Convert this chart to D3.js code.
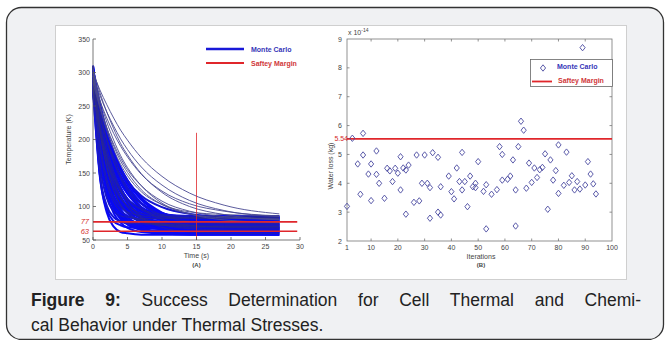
<!DOCTYPE html>
<html>
<head>
<meta charset="utf-8">
<script src="https://cdn.jsdelivr.net/npm/d3@7/dist/d3.min.js"></script>
<style>
  html, body { margin: 0; padding: 0; background: #fff; }
  svg { display: block; }
</style>
</head>
<body>
<div id="chart"></div>
<script>
// ---------------------------------------------------------------------------
// Figure 9 — (A) Monte Carlo temperature curves, (B) water loss per iteration
// ---------------------------------------------------------------------------

// (A) temperature (K) of each Monte Carlo run, sampled at TIMES (s)
const TIMES = [0, 1, 2, 3, 4, 5, 7, 10, 14, 19, 27];
const CURVES = [
  [300, 274, 252, 232, 214, 199, 173, 145, 120, 102, 89],
  [295, 266, 241, 220, 201, 185, 159, 132, 109, 94, 85],
  [305, 270, 241, 216, 194, 177, 149, 121, 100, 88, 80],
  [290, 258, 232, 209, 190, 174, 148, 123, 104, 93, 86],
  [300, 259, 226, 199, 176, 158, 131, 105, 89, 80, 76],
  [285, 248, 217, 193, 172, 155, 131, 108, 93, 85, 81],
  [305, 254, 213, 182, 158, 139, 113, 91, 79, 74, 72],
  [275, 233, 200, 174, 154, 138, 116, 99, 89, 85, 83],
  [300, 249, 210, 179, 155, 136, 110, 89, 77, 72, 70],
  [295, 234, 189, 158, 135, 119, 99, 86, 80, 78, 78],
  [280, 219, 175, 144, 122, 106, 86, 73, 67, 65, 65],
  [305, 242, 196, 164, 141, 124, 104, 90, 84, 82, 82],
  [270, 215, 175, 146, 126, 111, 93, 81, 76, 74, 74],
  [300, 223, 172, 138, 115, 99, 82, 72, 69, 68, 68],
  [290, 221, 174, 143, 122, 108, 93, 84, 81, 80, 80],
  [310, 228, 173, 137, 112, 95, 77, 66, 63, 62, 62],
  [275, 212, 170, 142, 123, 111, 97, 88, 86, 85, 85],
  [300, 212, 158, 126, 106, 94, 83, 77, 76, 76, 76],
  [285, 199, 147, 115, 96, 84, 73, 67, 66, 66, 66],
  [305, 213, 158, 124, 103, 91, 79, 74, 72, 72, 72],
  [270, 195, 150, 122, 106, 96, 86, 81, 80, 80, 80],
  [295, 203, 146, 112, 92, 79, 67, 62, 60, 60, 60],
  [300, 195, 141, 113, 99, 92, 86, 84, 84, 84, 84],
  [280, 178, 125, 98, 84, 78, 72, 70, 70, 70, 70],
  [305, 188, 128, 97, 81, 73, 66, 64, 64, 64, 64],
  [290, 187, 134, 107, 93, 86, 80, 78, 78, 78, 78],
  [300, 147, 91, 70, 62, 60, 58, 58, 58, 58, 58],
  [275, 144, 96, 78, 72, 69, 68, 68, 68, 68, 68],
  [310, 166, 113, 93, 86, 84, 82, 82, 82, 82, 82],
  [285, 222, 176, 144, 121, 104, 84, 70, 64, 62, 62],
  [295, 249, 213, 185, 163, 146, 122, 103, 92, 88, 86],
  [280, 240, 206, 179, 157, 139, 112, 87, 71, 62, 58],
  [300, 244, 202, 170, 146, 128, 105, 87, 78, 75, 74],
  [290, 234, 193, 161, 137, 120, 96, 79, 70, 67, 66],
  [305, 217, 163, 130, 110, 98, 87, 82, 80, 80, 80],
  [285, 214, 167, 135, 113, 99, 83, 74, 71, 70, 70],
  [300, 248, 207, 175, 151, 132, 105, 83, 71, 66, 64],
  [295, 184, 128, 99, 84, 76, 70, 68, 68, 68, 68],
  [310, 239, 188, 152, 126, 107, 84, 69, 62, 60, 60],
  [270, 197, 152, 125, 108, 98, 89, 84, 83, 83, 83],
  [300, 189, 132, 103, 88, 80, 74, 72, 72, 72, 72],
  [290, 209, 160, 130, 112, 101, 90, 85, 84, 84, 84],
  [305, 240, 193, 160, 136, 119, 98, 84, 78, 76, 76],
  [285, 175, 119, 90, 76, 68, 62, 60, 60, 60, 60],
  [300, 228, 180, 148, 126, 111, 95, 86, 83, 82, 82],
  [295, 204, 149, 116, 95, 83, 71, 66, 64, 64, 64],
  [280, 230, 192, 164, 142, 126, 105, 90, 82, 79, 78],
  [310, 216, 158, 124, 102, 90, 77, 72, 70, 70, 70],
  [290, 215, 164, 131, 108, 93, 76, 66, 63, 62, 62],
  [300, 196, 142, 115, 101, 94, 88, 86, 86, 86, 86],
  [275, 148, 101, 84, 78, 75, 74, 74, 74, 74, 74],
  [305, 237, 189, 154, 129, 111, 89, 75, 68, 66, 66],
  [295, 252, 218, 190, 168, 151, 125, 103, 89, 83, 81],
  [285, 196, 142, 109, 89, 77, 65, 60, 58, 58, 58],
  [300, 242, 199, 166, 142, 124, 99, 81, 72, 69, 68],
];
const TEMP_TICKS = [50, 100, 150, 200, 250, 300, 350];
const TIME_TICKS = [0, 5, 10, 15, 20, 25, 30];
const SAFETY_TEMPS = [77, 63];
const SAFETY_TIME = 15;
const SAFETY_TIME_TOP = 210;

// (B) water loss (x 1e-14 kg) per Monte Carlo iteration
const ITER = [1, 3, 5, 6, 7, 7, 9, 10, 10, 12, 12, 13, 15, 16, 17, 18, 19, 20, 21, 21,
  22, 23, 23, 24, 26, 27, 28, 29, 30, 31, 32, 32, 33, 35, 35, 36, 36, 39, 40, 41,
  42, 43, 44, 44, 45, 46, 47, 48, 49, 49, 50, 52, 53, 53, 55, 57, 58, 59, 59, 61,
  62, 63, 64, 64, 65, 66, 67, 68, 69, 70, 71, 72, 73, 74, 75, 76, 77, 78, 79, 80,
  80, 82, 83, 84, 85, 86, 87, 88, 89, 90, 91, 92, 93, 94];
const LOSS = [3.2, 5.56, 4.67, 3.62, 5.73, 4.98, 4.32, 4.67, 3.4, 4.31, 5.12, 4.0, 3.48, 4.52, 4.43, 4.06, 4.52, 4.35, 4.92, 3.77,
  4.53, 2.93, 4.46, 4.63, 3.34, 4.98, 3.39, 4.0, 4.98, 4.0, 2.79, 3.85, 5.06, 3.0, 4.9, 2.9, 3.88, 4.25, 3.71, 3.46,
  4.53, 4.06, 3.77, 5.07, 4.06, 3.19, 4.25, 3.88, 3.85, 4.0, 4.75, 3.72, 3.95, 2.42, 3.62, 3.78, 5.27, 5.0, 4.11, 4.14,
  4.25, 4.81, 3.77, 2.52, 5.27, 6.15, 5.84, 3.83, 4.7, 4.03, 4.53, 4.2, 4.47, 4.55, 5.02, 3.1, 4.81, 4.11, 4.44, 3.65,
  5.33, 3.93, 5.08, 4.03, 4.26, 3.77, 4.06, 3.8, 8.7, 3.94, 4.75, 4.32, 3.98, 3.63];
const ITER_TICKS = [1, 10, 20, 30, 40, 50, 60, 70, 80, 90, 100];
const LOSS_TICKS = [2, 3, 4, 5, 6, 7, 8, 9];
const LOSS_LIMIT = 5.54;

const W = 666, H = 340;
const svg = d3.select('#chart').append('svg').attr('width', W).attr('height', H)
  .style('font-family', '"Liberation Sans", Arial, sans-serif');

// outer card + white figure panel
svg.append('rect').attr('x', 6.5).attr('y', 7.5).attr('width', 657).attr('height', 332)
  .attr('rx', 15).attr('fill', '#f0f1f3').attr('stroke', '#333').attr('stroke-width', 1.3);
svg.append('rect').attr('x', 55.5).attr('y', 25.5).attr('width', 571).attr('height', 254)
  .attr('fill', '#fff').attr('stroke', '#cfcfcf');

const tickFont = (sel) => sel.style('font-size', '7px').attr('fill', '#444');

// ---------------- (A) ----------------
const xA = d3.scaleLinear().domain([0, 30]).range([93, 300]);
const yA = d3.scaleLinear().domain([50, 350]).range([240, 39]);
const gA = svg.append('g');

const line = d3.line().x((d, i) => xA(TIMES[i])).y((d) => yA(d)).curve(d3.curveMonotoneX);
const bright = CURVES.filter((c) => c[7] < 100);
const dark = CURVES.filter((c) => c[7] >= 100);
gA.selectAll('path.mc').data(bright).join('path').attr('class', 'mc')
  .attr('d', line).attr('fill', 'none').attr('stroke', '#0a0af2').attr('stroke-width', 2);
// darker outlines through the dense bundle
gA.selectAll('path.mco').data(bright.filter((c, i) => i % 3 === 1)).join('path').attr('class', 'mco')
  .attr('d', line).attr('fill', 'none').attr('stroke', '#2c2c8c').attr('stroke-width', 0.6);
gA.selectAll('path.mcd').data(dark).join('path').attr('class', 'mcd')
  .attr('d', line).attr('fill', 'none').attr('stroke', '#4a4a92').attr('stroke-width', 0.9);

// safety margin lines
gA.selectAll('line.sm').data(SAFETY_TEMPS).join('line').attr('class', 'sm')
  .attr('x1', xA(0)).attr('x2', xA(29.6)).attr('y1', (d) => yA(d)).attr('y2', (d) => yA(d))
  .attr('stroke', '#e0262b').attr('stroke-width', 1.6);
gA.append('line').attr('x1', xA(SAFETY_TIME)).attr('x2', xA(SAFETY_TIME))
  .attr('y1', yA(SAFETY_TIME_TOP)).attr('y2', yA(50)).attr('stroke', '#e0262b').attr('stroke-width', 0.8);
gA.selectAll('text.sm').data(SAFETY_TEMPS).join('text').attr('class', 'sm')
  .attr('x', 89).attr('y', (d) => yA(d) + 2.5).attr('text-anchor', 'end')
  .style('font-size', '7.5px').style('font-style', 'italic').attr('fill', '#d42a2a').text((d) => d);

// axes
const axA = gA.append('g').attr('stroke', '#555').attr('stroke-width', 0.8);
axA.append('line').attr('x1', xA(0)).attr('x2', xA(0)).attr('y1', yA(350)).attr('y2', yA(50));
axA.append('line').attr('x1', xA(0)).attr('x2', xA(30)).attr('y1', yA(50)).attr('y2', yA(50));
axA.selectAll('line.ty').data(TEMP_TICKS).join('line').attr('class', 'ty')
  .attr('x1', xA(0)).attr('x2', xA(0) + 3).attr('y1', (d) => yA(d)).attr('y2', (d) => yA(d));
axA.selectAll('line.tx').data(TIME_TICKS).join('line').attr('class', 'tx')
  .attr('x1', (d) => xA(d)).attr('x2', (d) => xA(d)).attr('y1', yA(50)).attr('y2', yA(50) - 3);
gA.selectAll('text.ty').data(TEMP_TICKS).join('text').attr('class', 'ty')
  .attr('x', 90).attr('y', (d) => yA(d) + 2.5).attr('text-anchor', 'end').call(tickFont).text((d) => d);
gA.selectAll('text.tx').data(TIME_TICKS).join('text').attr('class', 'tx')
  .attr('x', (d) => xA(d)).attr('y', 249).attr('text-anchor', 'middle').call(tickFont).text((d) => d);
gA.append('text').attr('x', xA(15)).attr('y', 258).attr('text-anchor', 'middle').call(tickFont).text('Time (s)');
gA.append('text').attr('x', xA(15)).attr('y', 267).attr('text-anchor', 'middle').call(tickFont)
  .style('font-weight', 'bold').style('font-size', '6px').text('(A)');
gA.append('text').attr('transform', `translate(71,${yA(200)}) rotate(-90)`).attr('text-anchor', 'middle')
  .call(tickFont).text('Temperature (K)');

// legend (A)
const legA = gA.append('g').style('font-size', '7px').style('font-weight', 'bold');
legA.append('line').attr('x1', 206).attr('x2', 244).attr('y1', 49).attr('y2', 49).attr('stroke', '#1818d8').attr('stroke-width', 2.6);
legA.append('text').attr('x', 251).attr('y', 51.5).attr('fill', '#3636b8').text('Monte Carlo');
legA.append('line').attr('x1', 206).attr('x2', 244).attr('y1', 63).attr('y2', 63).attr('stroke', '#e0262b').attr('stroke-width', 1.8);
legA.append('text').attr('x', 251).attr('y', 65.5).attr('fill', '#d0373a').text('Saftey Margin');

// ---------------- (B) ----------------
const xB = d3.scaleLinear().domain([1, 100]).range([347, 612]);
const yB = d3.scaleLinear().domain([2, 9]).range([241, 39]);
const gB = svg.append('g');

gB.append('rect').attr('x', xB(1)).attr('y', yB(9)).attr('width', xB(100) - xB(1)).attr('height', yB(2) - yB(9))
  .attr('fill', 'none').attr('stroke', '#777').attr('stroke-width', 0.8);
const tB = gB.append('g').attr('stroke', '#777').attr('stroke-width', 0.8);
tB.selectAll('line.bx').data(ITER_TICKS.slice(1, -1)).join('line').attr('class', 'bx')
  .attr('x1', (d) => xB(d)).attr('x2', (d) => xB(d)).attr('y1', yB(2)).attr('y2', yB(2) - 2.5);
tB.selectAll('line.tx').data(ITER_TICKS.slice(1, -1)).join('line').attr('class', 'tx')
  .attr('x1', (d) => xB(d)).attr('x2', (d) => xB(d)).attr('y1', yB(9)).attr('y2', yB(9) + 2.5);
tB.selectAll('line.ly').data(LOSS_TICKS.slice(1, -1)).join('line').attr('class', 'ly')
  .attr('x1', xB(1)).attr('x2', xB(1) + 2.5).attr('y1', (d) => yB(d)).attr('y2', (d) => yB(d));
tB.selectAll('line.ry').data(LOSS_TICKS.slice(1, -1)).join('line').attr('class', 'ry')
  .attr('x1', xB(100)).attr('x2', xB(100) - 2.5).attr('y1', (d) => yB(d)).attr('y2', (d) => yB(d));

gB.selectAll('text.ly').data(LOSS_TICKS).join('text').attr('class', 'ly')
  .attr('x', 342).attr('y', (d) => yB(d) + 2.5).attr('text-anchor', 'end').call(tickFont).text((d) => d);
gB.selectAll('text.bx').data(ITER_TICKS).join('text').attr('class', 'bx')
  .attr('x', (d) => xB(d)).attr('y', 250).attr('text-anchor', 'middle').call(tickFont).text((d) => d);
gB.append('text').attr('x', 481).attr('y', 259).attr('text-anchor', 'middle').call(tickFont).text('Iterations');
gB.append('text').attr('x', 481).attr('y', 267).attr('text-anchor', 'middle').call(tickFont)
  .style('font-weight', 'bold').style('font-size', '6px').text('(B)');
gB.append('text').attr('transform', `translate(333,${yB(4.6)}) rotate(-90)`).attr('text-anchor', 'middle')
  .call(tickFont).text('Water loss (kg)');
const expo = gB.append('text').attr('x', 348).attr('y', 35).call(tickFont);
expo.append('tspan').text('x 10');
expo.append('tspan').attr('dy', -3).style('font-size', '5px').text('-14');

// safety margin
gB.append('line').attr('x1', xB(1)).attr('x2', xB(100)).attr('y1', yB(LOSS_LIMIT)).attr('y2', yB(LOSS_LIMIT))
  .attr('stroke', '#e0262b').attr('stroke-width', 1.8);
gB.append('text').attr('x', 348).attr('y', yB(LOSS_LIMIT) + 2.5).attr('text-anchor', 'end')
  .style('font-size', '7px').attr('fill', '#d42a2a').text(LOSS_LIMIT);

// diamonds
const diamond = (cx, cy) => `M${cx},${cy - 3.2}L${cx + 2.6},${cy}L${cx},${cy + 3.2}L${cx - 2.6},${cy}Z`;
gB.selectAll('path.pt').data(ITER).join('path').attr('class', 'pt')
  .attr('d', (d, i) => diamond(xB(d), yB(LOSS[i])))
  .attr('fill', 'none').attr('stroke', '#4a4aa0').attr('stroke-width', 0.9);

// legend (B)
const legB = gB.append('g').style('font-size', '7px').style('font-weight', 'bold');
legB.append('rect').attr('x', 530.5).attr('y', 59.5).attr('width', 82).attr('height', 27)
  .attr('fill', '#fff').attr('stroke', '#666').attr('stroke-width', 0.8);
legB.append('path').attr('d', diamond(543, 68)).attr('fill', 'none').attr('stroke', '#4a4aa0').attr('stroke-width', 0.9);
legB.append('text').attr('x', 557).attr('y', 68.5).attr('fill', '#3636b8').text('Monte Carlo');
legB.append('line').attr('x1', 532).attr('x2', 552).attr('y1', 81.5).attr('y2', 81.5).attr('stroke', '#e0262b').attr('stroke-width', 1.8);
legB.append('text').attr('x', 558).attr('y', 83).attr('fill', '#d0373a').text('Saftey Margin');

// ---------------- caption (first line justified) ----------------
const cap = svg.append('g').style('font-size', '17.5px').attr('fill', '#222');
const l1 = cap.append('text').attr('x', 31).attr('y', 306);
l1.append('tspan').style('font-weight', 'bold').text('Figure 9:');
l1.append('tspan').text(' Success Determination for Cell Thermal and Chemi-');
const natural = l1.node().getComputedTextLength();
l1.style('word-spacing', `${Math.max(0, (610 - natural) / 8)}px`);
cap.append('text').attr('x', 31).attr('y', 331).text('cal Behavior under Thermal Stresses.');
</script>
</body>
</html>
